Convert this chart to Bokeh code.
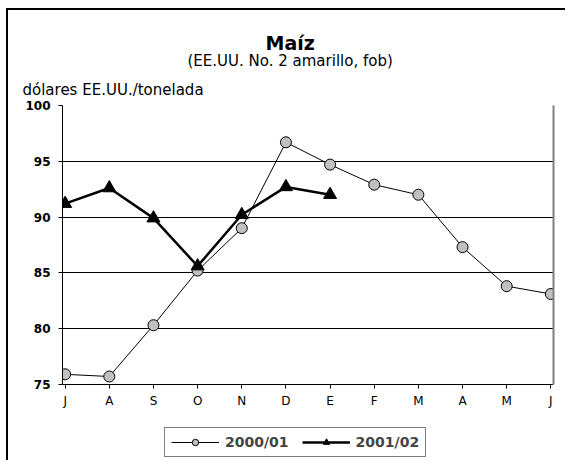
from bokeh.plotting import figure
from bokeh.models import (Range1d, FixedTicker, Legend, LegendItem, Title, LinearAxis)
from bokeh.embed import file_html
from bokeh.resources import INLINE

months = ["J", "A", "S", "O", "N", "D", "E", "F", "M", "A", "M", "J"]
serie_2000_01 = [75.9, 75.7, 80.3, 85.2, 89.0, 96.7, 94.7, 92.9, 92.0, 87.3, 83.8, 83.1]
serie_2001_02 = [91.2, 92.6, 89.9, 85.6, 90.2, 92.7, 92.0]
y_ticks = [75, 80, 85, 90, 95, 100]
title_text = "Maíz"
subtitle_text = "(EE.UU. No. 2 amarillo, fob)"
unit_text = "dólares EE.UU./tonelada"
legend_labels = ["2000/01", "2001/02"]

FONT = "DejaVu Sans"
VIEW_BOTTOM = 68.17   # frame extends below the axis to hold the legend
X_PAD = 0.06          # keeps the edge month labels unclipped

x_idx = list(range(len(months)))

p = figure(frame_width=491, frame_height=355,
           output_backend="svg", toolbar_location=None,
           x_range=Range1d(-X_PAD, len(months) - 1 + X_PAD),
           y_range=Range1d(VIEW_BOTTOM, y_ticks[-1]),
           min_border_left=54, min_border_right=12, min_border_top=95, min_border_bottom=0)
p.outline_line_color = None
p.background_fill_color = "white"
p.border_fill_color = "white"
p.styles = {"margin-left": "6px", "margin-top": "8px",
            "border-left": "2px solid black", "border-top": "2px solid black"}

# titles (stacked from the frame upward: first added is closest)
p.add_layout(Title(text=unit_text, align="left", offset=-40, standoff=13,
                   text_font=FONT, text_font_size="15px", text_font_style="normal",
                   text_color="black"), "above")
p.add_layout(Title(text=subtitle_text, align="left", offset=125, standoff=6,
                   text_font=FONT, text_font_size="15px", text_font_style="normal",
                   text_line_height=0.95, text_color="black"), "above")
p.title.text = title_text
p.title.align = "left"
p.title.offset = 203
p.title.standoff = -15
p.title.text_font = FONT
p.title.text_font_size = "19px"
p.title.text_font_style = "bold"
p.title.text_color = "black"

# x axis drawn at y = 75
p.xaxis.fixed_location = y_ticks[0]
p.xaxis.ticker = FixedTicker(ticks=x_idx)
p.xaxis.major_label_overrides = {i: m for i, m in enumerate(months)}
p.xaxis.bounds = (0, len(months) - 1)
p.xaxis.minor_tick_line_color = None
p.xaxis.major_tick_in = 0
p.xaxis.major_tick_out = 4
p.xaxis.axis_line_color = "black"
p.xaxis.major_tick_line_color = "black"
p.xaxis.major_label_text_font = FONT
p.xaxis.major_label_text_font_size = "12px"
p.xaxis.major_label_text_color = "black"
p.xaxis.major_label_standoff = 6

p.yaxis.ticker = FixedTicker(ticks=y_ticks)
p.yaxis.bounds = (y_ticks[0], y_ticks[-1])
p.yaxis.minor_tick_line_color = None
p.yaxis.major_tick_in = 0
p.yaxis.major_tick_out = 4
p.yaxis.axis_line_color = "black"
p.yaxis.major_tick_line_color = "black"
p.yaxis.major_label_text_font = FONT
p.yaxis.major_label_text_font_size = "12px"
p.yaxis.major_label_text_font_style = "bold"
p.yaxis.major_label_text_color = "black"
p.yaxis.major_label_standoff = 8

p.xgrid.grid_line_color = None
p.ygrid.ticker = FixedTicker(ticks=y_ticks)
p.ygrid.grid_line_color = "black"
p.ygrid.grid_line_width = 1

# right border of the plot area (grey), limited to the value range
right_axis = LinearAxis(ticker=FixedTicker(ticks=[]), bounds=(y_ticks[0], y_ticks[-1]),
                        axis_line_color="#808080", axis_line_width=2,
                        major_tick_line_color=None, minor_tick_line_color=None)
p.add_layout(right_axis, "right")

# series
l1 = p.line(x_idx, serie_2000_01, line_color="black", line_width=1)
s1 = p.scatter(x_idx, serie_2000_01, marker="circle", size=11,
               fill_color="#C0C0C0", line_color="black", line_width=1)
x2 = x_idx[:len(serie_2001_02)]
l2 = p.line(x2, serie_2001_02, line_color="black", line_width=2.5)
s2 = p.scatter(x2, serie_2001_02, marker="triangle", size=13,
               fill_color="black", line_color="black", line_width=1)

legend = Legend(items=[LegendItem(label=legend_labels[0], renderers=[l1, s1]),
                       LegendItem(label=legend_labels[1], renderers=[l2, s2])],
                orientation="horizontal", location=(102, 3),
                glyph_width=48, glyph_height=16, label_standoff=6, spacing=13,
                padding=6, margin=0, border_line_color="black", border_line_width=1,
                label_text_font=FONT, label_text_font_style="bold",
                label_text_font_size="14px", background_fill_color="white",
                background_fill_alpha=1)
p.add_layout(legend, "center")

open("out.html", "w").write(file_html(p, INLINE))
